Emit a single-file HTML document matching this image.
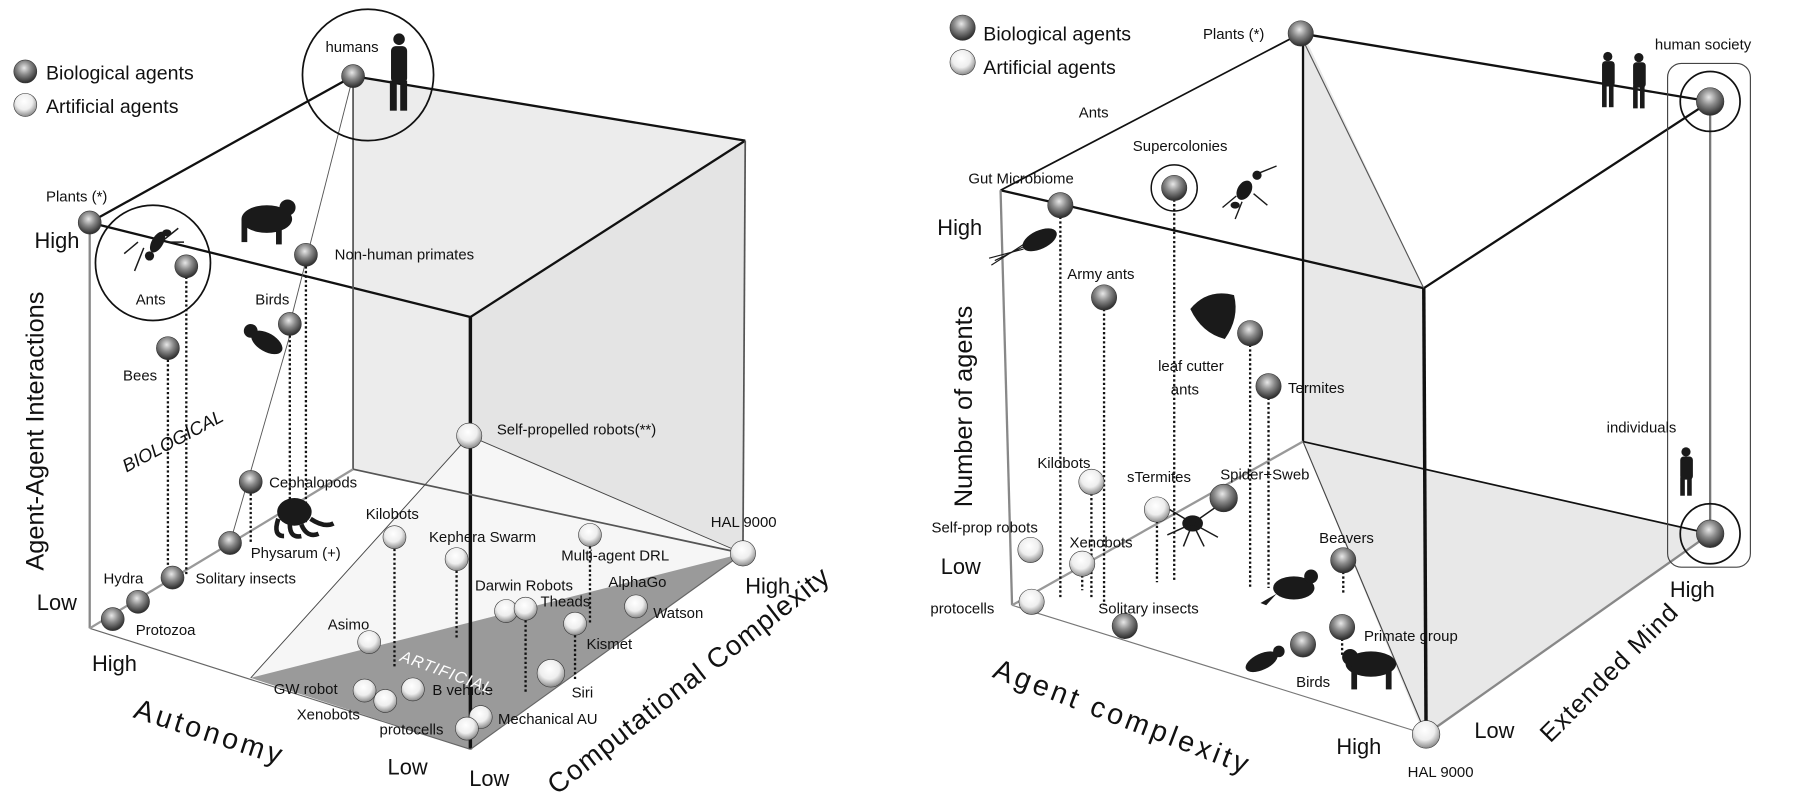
<!DOCTYPE html>
<html><head><meta charset="utf-8"><style>
html,body{margin:0;padding:0;background:#fff;}
svg{display:block;}
text{font-family:"Liberation Sans",sans-serif;fill:#111;}
</style></head><body>
<svg width="1801" height="807" viewBox="0 0 1566 700" preserveAspectRatio="none" xmlns="http://www.w3.org/2000/svg">
<defs>
<radialGradient id="dk" cx="0.45" cy="0.35" r="0.65"><stop offset="0" stop-color="#e8e8e8"/><stop offset="0.45" stop-color="#8a8a8a"/><stop offset="1" stop-color="#2a2a2a"/></radialGradient>
<radialGradient id="lt" cx="0.45" cy="0.35" r="0.65"><stop offset="0" stop-color="#ffffff"/><stop offset="0.55" stop-color="#eeeeee"/><stop offset="1" stop-color="#8a8a8a"/></radialGradient>
</defs>

<!-- ================= LEFT DIAGRAM ================= -->
<polygon points="307,66 648,122 646,480 307,407" fill="#ececec"/>
<polygon points="409,275 648,122 646,480 409,650" fill="#e4e4e4"/>
<polygon points="218,588 408,378 646,480" fill="#f6f6f6"/>
<polygon points="218,588 646,480 409,650" fill="#9a9a9a"/>
<g stroke="#111" fill="none">
<line x1="78" y1="193" x2="307" y2="66" stroke-width="2"/>
<line x1="307" y1="66" x2="648" y2="122" stroke-width="2"/>
<line x1="78" y1="193" x2="409" y2="275" stroke-width="2"/>
<line x1="409" y1="275" x2="648" y2="122" stroke-width="2"/>
<line x1="409" y1="275" x2="409" y2="650" stroke-width="3"/>
<line x1="307" y1="66" x2="307" y2="407" stroke="#555" stroke-width="1.5"/>
<line x1="648" y1="122" x2="646" y2="480" stroke="#555" stroke-width="1.5"/>
<line x1="307" y1="407" x2="646" y2="480" stroke="#555" stroke-width="1.5"/>
<line x1="78" y1="193" x2="78" y2="545" stroke="#888" stroke-width="2"/>
<line x1="78" y1="545" x2="409" y2="650" stroke="#666" stroke-width="1"/>
<line x1="409" y1="650" x2="646" y2="480" stroke="#666" stroke-width="1"/>
<line x1="78" y1="545" x2="307" y2="407" stroke="#999" stroke-width="2"/>
<line x1="218" y1="588" x2="408" y2="378" stroke="#444" stroke-width="0.8"/>
<line x1="408" y1="378" x2="646" y2="480" stroke="#444" stroke-width="0.8"/>
<line x1="307" y1="66" x2="252" y2="281" stroke="#555" stroke-width="0.8"/>
<line x1="252" y1="291" x2="200" y2="471" stroke="#555" stroke-width="0.8"/>
<circle cx="320" cy="65" r="57" stroke-width="1.5"/>
<circle cx="133" cy="228" r="50" stroke-width="1.5"/>
</g>
<g stroke="#111" stroke-width="2" stroke-dasharray="2,2">
<line x1="162" y1="240" x2="162" y2="500"/><line x1="146" y1="312" x2="146" y2="500"/>
<line x1="252" y1="291" x2="252" y2="452"/><line x1="266" y1="231" x2="266" y2="455"/>
<line x1="218" y1="428" x2="218" y2="470"/><line x1="343" y1="476" x2="343" y2="580"/>
<line x1="397" y1="495" x2="397" y2="555"/><line x1="513" y1="474" x2="513" y2="540"/>
<line x1="457" y1="538" x2="457" y2="600"/><line x1="500" y1="551" x2="500" y2="590"/>
</g>
<g fill="#1a1a1a">
<rect x="340" y="40" width="14" height="32" rx="4"/><circle cx="347" cy="34" r="5"/><rect x="339" y="70" width="6" height="26"/><rect x="348" y="70" width="6" height="26"/>
<ellipse cx="232" cy="190" rx="22" ry="12"/><circle cx="250" cy="180" r="7"/><rect x="210" y="190" width="5" height="20"/><rect x="240" y="192" width="5" height="20"/>
<ellipse cx="232" cy="297" rx="15" ry="8" transform="rotate(30 232 297)"/><circle cx="218" cy="287" r="6"/>
<ellipse cx="256" cy="444" rx="15" ry="12"/><path d="M242 450 q-5 15 5 15 M252 455 q0 12 10 10 M262 455 q5 12 15 8 M270 450 q12 8 20 4" stroke="#1a1a1a" stroke-width="4" fill="none"/>
<ellipse cx="137" cy="210" rx="5" ry="10" transform="rotate(30 137 210)"/><circle cx="130" cy="222" r="4"/><ellipse cx="145" cy="202" rx="4" ry="3"/>
<path d="M120 210 l-12 10 M125 215 l-8 20 M140 210 l15 -12 M145 210 l15 0" stroke="#1a1a1a" stroke-width="1.3" fill="none"/>
</g>
<g stroke="#333" stroke-width="0.5">
<circle cx="307" cy="66" r="10" fill="url(#dk)"/><circle cx="78" cy="193" r="10" fill="url(#dk)"/>
<circle cx="162" cy="231" r="10" fill="url(#dk)"/><circle cx="266" cy="221" r="10" fill="url(#dk)"/>
<circle cx="252" cy="281" r="10" fill="url(#dk)"/><circle cx="146" cy="302" r="10" fill="url(#dk)"/>
<circle cx="218" cy="418" r="10" fill="url(#dk)"/><circle cx="200" cy="471" r="10" fill="url(#dk)"/>
<circle cx="150" cy="501" r="10" fill="url(#dk)"/><circle cx="120" cy="522" r="10" fill="url(#dk)"/>
<circle cx="98" cy="537" r="10" fill="url(#dk)"/>
<circle cx="408" cy="378" r="11" fill="url(#lt)"/><circle cx="646" cy="480" r="11" fill="url(#lt)"/>
<circle cx="343" cy="466" r="10" fill="url(#lt)"/><circle cx="397" cy="485" r="10" fill="url(#lt)"/>
<circle cx="513" cy="464" r="10" fill="url(#lt)"/><circle cx="440" cy="530" r="10" fill="url(#lt)"/>
<circle cx="457" cy="528" r="10" fill="url(#lt)"/><circle cx="321" cy="557" r="10" fill="url(#lt)"/>
<circle cx="553" cy="526" r="10" fill="url(#lt)"/><circle cx="500" cy="541" r="10" fill="url(#lt)"/>
<circle cx="479" cy="584" r="12" fill="url(#lt)"/><circle cx="317" cy="599" r="10" fill="url(#lt)"/>
<circle cx="359" cy="598" r="10" fill="url(#lt)"/><circle cx="335" cy="608" r="10" fill="url(#lt)"/>
<circle cx="418" cy="622" r="10" fill="url(#lt)"/><circle cx="406" cy="632" r="10" fill="url(#lt)"/>
<circle cx="22" cy="62" r="10" fill="url(#dk)"/><circle cx="22" cy="91" r="10" fill="url(#lt)"/>
</g>
<g font-size="13">
<text x="40" y="69" font-size="17">Biological agents</text><text x="40" y="98" font-size="17">Artificial agents</text>
<text x="283" y="45">humans</text><text x="40" y="175">Plants (*)</text>
<text x="30" y="215" font-size="19">High</text><text x="32" y="529" font-size="19">Low</text>
<text x="80" y="582" font-size="19">High</text><text x="337" y="672" font-size="19">Low</text>
<text x="408" y="682" font-size="19">Low</text><text x="648" y="515" font-size="19">High</text>
<text x="118" y="264">Ants</text><text x="291" y="225">Non-human primates</text>
<text x="222" y="264">Birds</text><text x="107" y="330">Bees</text>
<text x="234" y="423">Cephalopods</text><text x="218" y="484">Physarum (+)</text>
<text x="170" y="506">Solitary insects</text><text x="90" y="506">Hydra</text>
<text x="118" y="551">Protozoa</text><text x="432" y="377">Self-propelled robots(**)</text>
<text x="618" y="457">HAL 9000</text><text x="318" y="450">Kilobots</text>
<text x="373" y="470">Kephera Swarm</text><text x="488" y="486">Multi-agent DRL</text>
<text x="413" y="512">Darwin Robots</text><text x="470" y="526">Theads</text>
<text x="529" y="509">AlphaGo</text><text x="568" y="536">Watson</text>
<text x="510" y="563">Kismet</text><text x="497" y="605">Siri</text>
<text x="285" y="546">Asimo</text><text x="238" y="602">GW robot</text>
<text x="376" y="603">B vehicle</text><text x="258" y="624">Xenobots</text>
<text x="330" y="637">protocells</text><text x="433" y="628">Mechanical AU</text>
<text x="0" y="0" font-size="16" font-style="italic" transform="translate(110,410) rotate(-28)">BIOLOGICAL</text>
<text x="0" y="0" font-size="14" font-style="italic" style="fill:#fff" letter-spacing="1" transform="translate(347,573) rotate(20)">ARTIFICIAL</text>
<text x="0" y="0" font-size="22" transform="translate(38,495) rotate(-90)">Agent-Agent Interactions</text>
<text x="0" y="0" font-size="25" letter-spacing="3" transform="translate(115,622) rotate(18)">Autonomy</text>
<text x="0" y="0" font-size="24" letter-spacing="1" transform="translate(484,690) rotate(-38)">Computational Complexity</text>
</g>

<!-- ================= RIGHT DIAGRAM ================= -->
<polygon points="1133,29 1238,250 1238,637 1133,383" fill="#e8e8e8"/>
<polygon points="1133,383 1487,463 1240,637" fill="#e8e8e8"/>
<g stroke="#111" fill="none">
<line x1="1131" y1="29" x2="1487" y2="88" stroke-width="2"/>
<line x1="1131" y1="29" x2="870" y2="165" stroke-width="1.5"/>
<line x1="870" y1="165" x2="1238" y2="250" stroke-width="2"/>
<line x1="1238" y1="250" x2="1487" y2="88" stroke-width="2"/>
<line x1="1133" y1="35" x2="1238" y2="250" stroke="#555" stroke-width="1"/>
<line x1="1238" y1="250" x2="1240" y2="637" stroke-width="3"/>
<line x1="1133" y1="29" x2="1133" y2="383" stroke-width="2"/>
<line x1="1133" y1="383" x2="1487" y2="463" stroke-width="1.5"/>
<line x1="1487" y1="88" x2="1487" y2="463" stroke="#777" stroke-width="2"/>
<line x1="1240" y1="637" x2="1487" y2="463" stroke="#888" stroke-width="2"/>
<line x1="870" y1="165" x2="880" y2="525" stroke="#888" stroke-width="2"/>
<line x1="880" y1="525" x2="1240" y2="637" stroke="#777" stroke-width="1"/>
<line x1="880" y1="525" x2="1133" y2="383" stroke="#999" stroke-width="2"/>
<line x1="1133" y1="383" x2="1240" y2="637" stroke="#444" stroke-width="1"/>
<rect x="1450" y="55" width="72" height="437" rx="12" stroke="#444" stroke-width="1"/>
<circle cx="1487" cy="88" r="26" stroke-width="1.5"/><circle cx="1487" cy="463" r="26" stroke-width="1.5"/>
<circle cx="1021" cy="163" r="20" stroke-width="1.3"/>
</g>
<g stroke="#111" stroke-width="2" stroke-dasharray="2,2">
<line x1="922" y1="188" x2="922" y2="520"/><line x1="960" y1="268" x2="960" y2="525"/>
<line x1="1021" y1="173" x2="1021" y2="505"/><line x1="1087" y1="299" x2="1087" y2="510"/>
<line x1="1103" y1="345" x2="1103" y2="510"/><line x1="949" y1="428" x2="949" y2="520"/>
<line x1="1006" y1="452" x2="1006" y2="505"/><line x1="941" y1="499" x2="941" y2="512"/>
<line x1="1168" y1="496" x2="1168" y2="516"/><line x1="1167" y1="554" x2="1167" y2="568"/>
</g>
<g fill="#1a1a1a">
<g transform="translate(1393,45)"><rect x="0" y="8" width="11" height="22" rx="3"/><circle cx="5" cy="4" r="4"/><rect x="0" y="28" width="4" height="20"/><rect x="6" y="28" width="4" height="20"/></g>
<g transform="translate(1420,46)"><rect x="0" y="8" width="11" height="22" rx="3"/><circle cx="5" cy="4" r="4"/><rect x="0" y="28" width="4" height="20"/><rect x="6" y="28" width="4" height="20"/></g>
<g transform="translate(1461,388)"><rect x="0" y="8" width="11" height="20" rx="3"/><circle cx="5" cy="4" r="4"/><rect x="0" y="26" width="4" height="16"/><rect x="6" y="26" width="4" height="16"/></g>
<ellipse cx="904" cy="208" rx="16" ry="8" transform="rotate(-25 904 208)"/>
<path d="M890 214 l-25 12 M890 216 l-30 8 M890 212 l-28 18" stroke="#1a1a1a" stroke-width="1" fill="none"/>
<ellipse cx="1082" cy="165" rx="6" ry="9" transform="rotate(30 1082 165)"/><circle cx="1093" cy="152" r="4"/><ellipse cx="1074" cy="178" rx="4" ry="3"/>
<path d="M1075 170 l-12 10 M1080 175 l-6 15 M1090 168 l12 10 M1095 150 l15 -6" stroke="#1a1a1a" stroke-width="1.2" fill="none"/>
<path d="M1035 268 q15 -18 38 -12 q5 20 -8 38 q-20 -5 -30 -26z"/>
<ellipse cx="1037" cy="454" rx="9" ry="7"/>
<path d="M1037 454 l-20 -12 M1037 454 l20 -14 M1037 454 l-22 10 M1037 454 l22 12 M1037 454 l-8 20 M1037 454 l10 20" stroke="#1a1a1a" stroke-width="1.3" fill="none"/>
<ellipse cx="1125" cy="510" rx="18" ry="10"/><circle cx="1140" cy="500" r="6"/><path d="M1110 515 l-14 8 l5 2z"/>
<ellipse cx="1097" cy="574" rx="15" ry="7" transform="rotate(-25 1097 574)"/><circle cx="1112" cy="565" r="5"/>
<ellipse cx="1192" cy="576" rx="22" ry="11"/><circle cx="1174" cy="570" r="7"/><rect x="1175" y="578" width="5" height="20"/><rect x="1205" y="580" width="5" height="18"/>
</g>
<g stroke="#333" stroke-width="0.5">
<circle cx="1131" cy="29" r="11" fill="url(#dk)"/><circle cx="1487" cy="88" r="12" fill="url(#dk)"/>
<circle cx="1487" cy="463" r="12" fill="url(#dk)"/><circle cx="922" cy="178" r="11" fill="url(#dk)"/>
<circle cx="1021" cy="163" r="11" fill="url(#dk)"/><circle cx="960" cy="258" r="11" fill="url(#dk)"/>
<circle cx="1087" cy="289" r="11" fill="url(#dk)"/><circle cx="1103" cy="335" r="11" fill="url(#dk)"/>
<circle cx="1064" cy="432" r="12" fill="url(#dk)"/><circle cx="1168" cy="486" r="11" fill="url(#dk)"/>
<circle cx="1133" cy="559" r="11" fill="url(#dk)"/><circle cx="1167" cy="544" r="11" fill="url(#dk)"/>
<circle cx="978" cy="543" r="11" fill="url(#dk)"/>
<circle cx="949" cy="418" r="11" fill="url(#lt)"/><circle cx="1006" cy="442" r="11" fill="url(#lt)"/>
<circle cx="896" cy="477" r="11" fill="url(#lt)"/><circle cx="941" cy="489" r="11" fill="url(#lt)"/>
<circle cx="897" cy="522" r="11" fill="url(#lt)"/><circle cx="1240" cy="637" r="12" fill="url(#lt)"/>
<circle cx="837" cy="24" r="11" fill="url(#dk)"/><circle cx="837" cy="54" r="11" fill="url(#lt)"/>
</g>
<g font-size="13">
<text x="855" y="35" font-size="17">Biological agents</text><text x="855" y="64" font-size="17">Artificial agents</text>
<text x="1046" y="34">Plants (*)</text><text x="1439" y="43">human society</text>
<text x="938" y="102">Ants</text><text x="985" y="131">Supercolonies</text>
<text x="842" y="159">Gut Microbiome</text><text x="815" y="204" font-size="19">High</text>
<text x="928" y="242">Army ants</text><text x="1007" y="322">leaf cutter</text><text x="1018" y="342">ants</text>
<text x="1120" y="341">Termites</text><text x="902" y="406">Kilobots</text>
<text x="980" y="418">sTermites</text><text x="1061" y="416">Spider+Sweb</text>
<text x="810" y="462">Self-prop robots</text><text x="930" y="475">Xenobots</text>
<text x="818" y="498" font-size="19">Low</text><text x="809" y="532">protocells</text>
<text x="955" y="532">Solitary insects</text><text x="1147" y="471">Beavers</text>
<text x="1186" y="556">Primate group</text><text x="1127" y="596">Birds</text>
<text x="1397" y="375">individuals</text><text x="1452" y="518" font-size="19">High</text>
<text x="1282" y="640" font-size="19">Low</text><text x="1162" y="654" font-size="19">High</text>
<text x="1224" y="674">HAL 9000</text>
<text x="0" y="0" font-size="22" transform="translate(845,440) rotate(-90)">Number of agents</text>
<text x="0" y="0" font-size="25" letter-spacing="3" transform="translate(862,587) rotate(21)">Agent complexity</text>
<text x="0" y="0" font-size="22" letter-spacing="1" transform="translate(1348,645) rotate(-45)">Extended Mind</text>
</g>
</svg>
</body></html>
